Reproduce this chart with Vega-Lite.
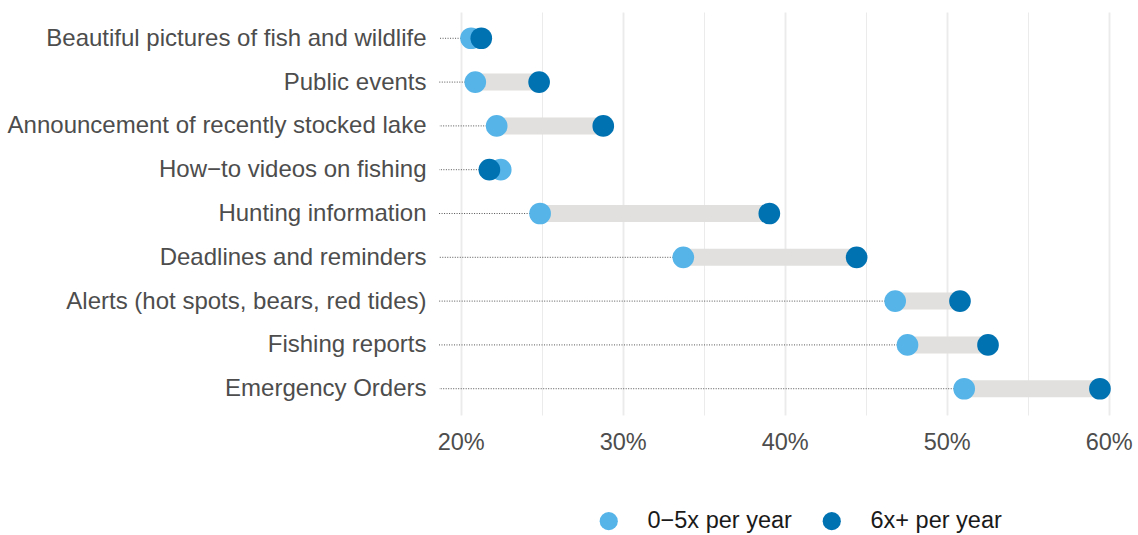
{
  "$schema": "https://vega.github.io/schema/vega-lite/v6.json",
  "autosize": {"type": "none"},
  "padding": {"left": 439, "top": 12, "right": 11, "bottom": 120},
  "width": 688,
  "height": 403,
  "background": "white",
  "config": {
    "view": {"stroke": null},
    "font": "Liberation Sans",
    "axis": {"labelFont": "Liberation Sans", "labelColor": "#4d4d4d"},
    "legend": {"labelFont": "Liberation Sans"}
  },
  "data": {
    "values": [
      {"item": "Beautiful pictures of fish and wildlife", "light": 20.64, "dark": 21.27},
      {"item": "Public events", "light": 20.9, "dark": 24.84},
      {"item": "Announcement of recently stocked lake", "light": 22.22, "dark": 28.8},
      {"item": "How−to videos on fishing", "light": 22.47, "dark": 21.77},
      {"item": "Hunting information", "light": 24.9, "dark": 39.05},
      {"item": "Deadlines and reminders", "light": 33.74, "dark": 44.44},
      {"item": "Alerts (hot spots, bears, red tides)", "light": 46.82, "dark": 50.82},
      {"item": "Fishing reports", "light": 47.58, "dark": 52.55},
      {"item": "Emergency Orders", "light": 51.08, "dark": 59.46}
    ]
  },
  "encoding": {
    "y": {
      "field": "item",
      "type": "nominal",
      "sort": null,
      "title": null,
      "scale": {"type": "point", "padding": 0.6},
      "axis": {
        "domain": false,
        "ticks": false,
        "grid": false,
        "labelFontSize": 24,
        "labelPadding": 13,
        "labelLimit": 0,
        "labelColor": "#4d4d4d"
      }
    }
  },
  "layer": [
    {
      "transform": [
        {"fold": ["light", "dark"], "as": ["grp", "v"]},
        {"aggregate": [{"op": "min", "field": "v", "as": "minv"}], "groupby": ["item"]}
      ],
      "mark": {"type": "rule", "color": "#555555", "strokeWidth": 1, "strokeDash": [1, 1.5]},
      "encoding": {
        "x": {
          "field": "minv",
          "type": "quantitative",
          "scale": {"domain": [18.66, 61.13], "nice": false, "zero": false},
          "title": null,
          "axis": {
            "values": [20, 25, 30, 35, 40, 45, 50, 55, 60],
            "labelExpr": "datum.value % 10 === 0 ? datum.value + '%' : ''",
            "domain": false,
            "ticks": false,
            "grid": true,
            "gridColor": "#EBEBEB",
            "gridWidth": {"condition": {"test": "datum.value % 10 === 0", "value": 1.9}, "value": 1},
            "labelFontSize": 23.5,
            "labelPadding": 15,
            "labelColor": "#4d4d4d"
          }
        },
        "x2": {"datum": 18.66}
      }
    },
    {
      "mark": {"type": "rule", "color": "#E1E0DE", "strokeWidth": 17},
      "encoding": {
        "x": {"field": "light", "type": "quantitative"},
        "x2": {"field": "dark"}
      }
    },
    {
      "transform": [{"fold": ["light", "dark"], "as": ["grp", "v"]}],
      "mark": {"type": "circle", "size": 470, "opacity": 1},
      "encoding": {
        "x": {"field": "v", "type": "quantitative"},
        "color": {
          "field": "grp",
          "type": "nominal",
          "scale": {"domain": ["light", "dark"], "range": ["#56B4E9", "#0072B2"]},
          "legend": {
            "orient": "none",
            "direction": "horizontal",
            "legendX": 158,
            "legendY": 497,
            "title": null,
            "labelExpr": "datum.value === 'light' ? '0−5x per year' : '6x+ per year'",
            "labelFontSize": 23.5,
            "labelColor": "#1a1a1a",
            "labelOffset": 27,
            "columnPadding": 28,
            "symbolSize": 330,
            "symbolType": "circle",
            "symbolStrokeWidth": 0,
            "symbolOpacity": 1
          }
        }
      }
    }
  ]
}
